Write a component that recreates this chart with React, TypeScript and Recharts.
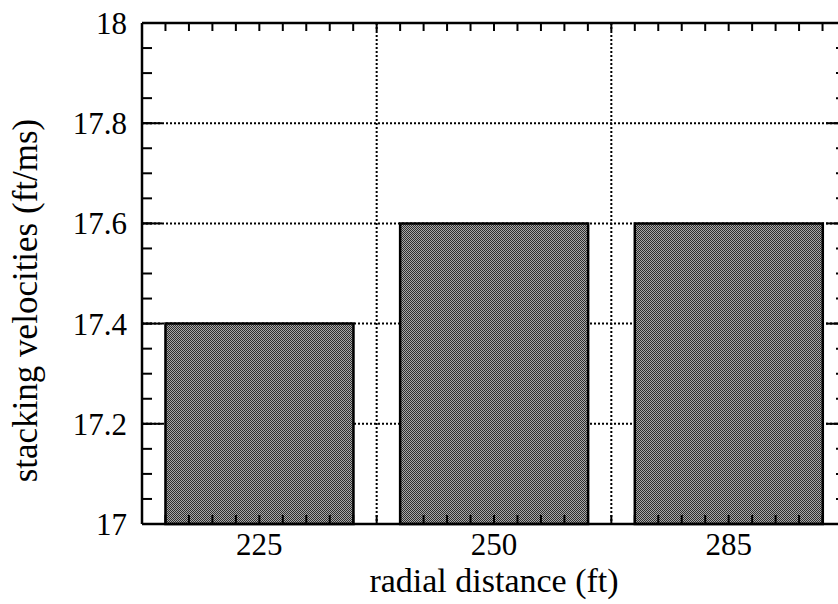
import { BarChart, Bar, XAxis, YAxis, CartesianGrid } from 'recharts'

const distances = ['225', '250', '285']
const velocities = [17.4, 17.6, 17.6]
const yTicks = [17, 17.2, 17.4, 17.6, 17.8, 18]
const bandEdges = [1, 2]

const minorX = Array.from({ length: 31 }, (_, i) => i / 10)
const minorY = Array.from({ length: 21 }, (_, i) => 17 + i * 0.05)

// slot = band index, only used so the helper number axes have a dataKey
const data = distances.map((d, i) => ({ distance: d, velocity: velocities[i], slot: i + 0.5 }))

const FONT = "'Liberation Serif', 'Times New Roman', Times, serif"
const tickStyle = { fontSize: 31, fill: '#000', style: { fontFamily: FONT } }
const axisLine = { stroke: '#000', strokeWidth: 2.5 }
const tickLine = { stroke: '#000', strokeWidth: 2 }
const noLabel = () => <g />

function XTitle({ viewBox }: any) {
  return (
    <text
      x={viewBox.x + viewBox.width / 2}
      y={viewBox.y + 68}
      textAnchor="middle"
      fontSize={34}
      fill="#000"
      style={{ fontFamily: FONT }}
    >
      radial distance (ft)
    </text>
  )
}

function YTitle({ viewBox }: any) {
  const x = viewBox.x + 37
  const y = viewBox.y + viewBox.height / 2 + 27
  return (
    <text
      x={x}
      y={y}
      transform={`rotate(-90 ${x} ${y})`}
      textAnchor="middle"
      fontSize={35}
      fill="#000"
      style={{ fontFamily: FONT }}
    >
      stacking velocities (ft/ms)
    </text>
  )
}

export default function App() {
  return (
    <div style={{ position: 'absolute', left: 0, top: 0, width: 838, height: 604, overflow: 'hidden', background: '#fff', fontFamily: FONT }}>
      <BarChart
        width={900}
        height={604}
        data={data}
        margin={{ top: 23, right: 54, bottom: 40, left: 0 }}
        barCategoryGap="10%"
      >
        <defs>
          <pattern id="stipple" width="2" height="2" patternUnits="userSpaceOnUse">
            <rect width="2" height="2" fill="#a8a8a8" />
            <rect width="1" height="1" fill="#2e2e2e" />
            <rect x="1" y="1" width="1" height="1" fill="#2e2e2e" />
          </pattern>
        </defs>
        <CartesianGrid xAxisId="bands" stroke="#000" strokeWidth={2} strokeDasharray="2 2" />
        <Bar dataKey="velocity" fill="url(#stipple)" stroke="#000" strokeWidth={2.5} isAnimationActive={false} />

        <XAxis
          dataKey="distance"
          height={40}
          axisLine={axisLine}
          tickLine={false}
          tickSize={0}
          tickMargin={9}
          tick={tickStyle}
          label={<XTitle />}
        />
        <XAxis xAxisId="bands" dataKey="slot" type="number" domain={[0, 3]} allowDataOverflow ticks={bandEdges} interval={0} mirror axisLine={false} tickLine={false} tick={noLabel} height={1} />
        <XAxis xAxisId="minorB" dataKey="slot" type="number" domain={[0, 3]} allowDataOverflow ticks={minorX} interval={0} mirror axisLine={false} tickLine={tickLine} tickSize={8} tick={noLabel} height={1} />
        <XAxis xAxisId="minorT" dataKey="slot" orientation="top" type="number" domain={[0, 3]} allowDataOverflow ticks={minorX} interval={0} mirror axisLine={axisLine} tickLine={tickLine} tickSize={8} tick={noLabel} height={1} />

        <YAxis
          type="number"
          domain={[17, 18]}
          ticks={yTicks}
          width={142}
          axisLine={axisLine}
          tickLine={false}
          tickSize={0}
          tickMargin={15}
          tick={tickStyle}
          label={<YTitle />}
        />
        <YAxis yAxisId="minorL" type="number" domain={[17, 18]} allowDataOverflow ticks={minorY} interval={0} mirror axisLine={false} tickLine={tickLine} tickSize={9} tick={noLabel} width={1} />
        <YAxis yAxisId="majorL" type="number" domain={[17, 18]} allowDataOverflow ticks={yTicks} interval={0} mirror axisLine={false} tickLine={tickLine} tickSize={20} tick={noLabel} width={1} />
        <YAxis yAxisId="minorR" orientation="right" type="number" domain={[17, 18]} allowDataOverflow ticks={minorY} interval={0} mirror axisLine={axisLine} tickLine={tickLine} tickSize={9} tick={noLabel} width={1} />
        <YAxis yAxisId="majorR" orientation="right" type="number" domain={[17, 18]} allowDataOverflow ticks={yTicks} interval={0} mirror axisLine={false} tickLine={tickLine} tickSize={20} tick={noLabel} width={1} />
      </BarChart>
    </div>
  )
}
